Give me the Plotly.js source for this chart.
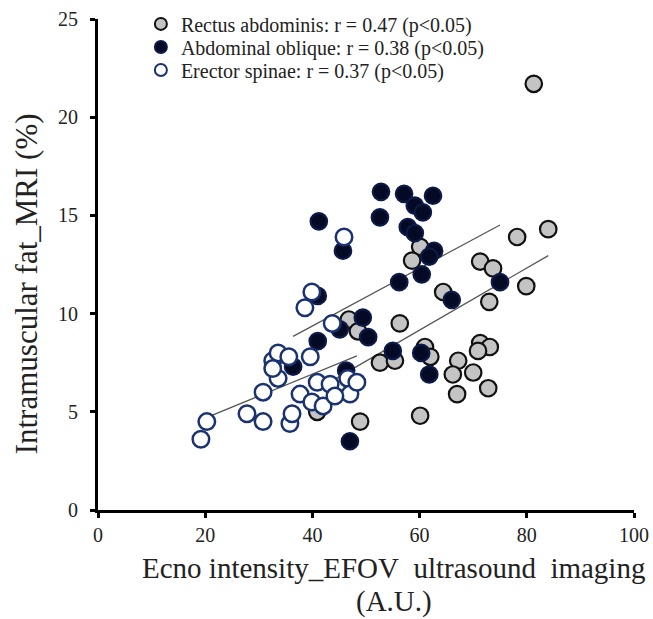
<!DOCTYPE html>
<html>
<head>
<meta charset="utf-8">
<script src="https://cdn.plot.ly/plotly-3.0.1.min.js"></script>
<style>html,body{margin:0;padding:0;background:#fff;}</style>
</head>
<body>
<div id="chart" style="width:653px;height:619px;"></div>
<script>
// Rectus abdominis
var rectusX = [84.0,78.2,60.1,58.6,71.3,73.7,79.9,64.4,73.0,56.3,46.8,48.5,52.6,55.4,61.0,62.0,71.3,73.1,70.9,67.2,70.0,66.2,72.8,67.0,60.1,48.9,81.3,40.9];
var rectusY = [14.3,13.9,13.4,12.7,12.65,12.3,11.4,11.1,10.6,9.5,9.7,9.1,7.5,7.6,8.3,7.8,8.5,8.3,8.1,7.6,7.0,6.9,6.2,5.9,4.8,4.5,21.7,5.0];
// Abdominal oblique
var obliqueX = [52.8,57.1,62.5,59.1,60.6,52.6,57.8,59.1,62.7,61.8,60.4,56.2,75.0,66.0,49.4,50.4,55.0,60.3,61.8,47.0,45.7,41.2,41.0,41.0,45.1,36.4,46.3];
var obliqueY = [16.2,16.1,16.0,15.5,15.15,14.9,14.4,14.1,13.2,12.9,12.0,11.6,11.6,10.7,9.8,8.8,8.1,8.0,6.9,3.5,13.2,14.7,10.9,8.6,9.2,7.3,7.1];
// Erector spinae
var erectorX = [20.3,19.2,27.8,30.8,30.8,32.6,33.6,35.6,33.6,32.6,39.6,35.8,36.2,37.7,39.9,42.0,40.9,43.3,46.6,47.0,48.3,44.2,39.9,38.6,43.7,45.9];
var erectorY = [4.5,3.6,4.9,4.5,6.0,7.6,8.0,7.8,6.7,7.2,7.8,4.4,4.9,5.9,5.5,5.3,6.5,6.4,6.7,5.9,6.5,5.8,11.1,10.3,9.5,13.9];

// Regression lines: [slope, intercept]
var rectusFit = [0.158, -0.32];
var obliqueFit = [0.147, 3.49];
var erectorFit = [0.112, 2.44];

var seriesNames = [
  "Rectus abdominis: r = 0.47 (p<0.05)",
  "Abdominal oblique: r = 0.38 (p<0.05)",
  "Erector spinae: r = 0.37 (p<0.05)"
];
var xTicks = [0,20,40,60,80,100];
var yTicks = [0,5,10,15,20,25];
var xTitleLines = ["Ecno intensity_EFOV\u00a0\u00a0ultrasound\u00a0\u00a0imaging", "(A.U.)"];
var yTitle = "Intramuscular fat_MRI (%)";

function fitLine(xs, fit) {
  var mn = Math.min.apply(null, xs), mx = Math.max.apply(null, xs);
  return {x: [mn, mx], y: [fit[1] + fit[0]*mn, fit[1] + fit[0]*mx]};
}

var FONT = "Liberation Serif, Times New Roman, serif";
var lineStyle = {color: "#555", width: 1.2};
var rl = fitLine(rectusX, rectusFit), ol = fitLine(obliqueX, obliqueFit), el = fitLine(erectorX, erectorFit);

var traces = [
  {x: rl.x, y: rl.y, mode: "lines", line: lineStyle, showlegend: false, hoverinfo: "skip"},
  {x: ol.x, y: ol.y, mode: "lines", line: lineStyle, showlegend: false, hoverinfo: "skip"},
  {x: el.x, y: el.y, mode: "lines", line: lineStyle, showlegend: false, hoverinfo: "skip"},
  {x: rectusX, y: rectusY, mode: "markers", name: seriesNames[0], legend: "legend",
   marker: {size: 16.5, color: "#c4c4c4", line: {color: "#111", width: 2.2}}},
  {x: obliqueX, y: obliqueY, mode: "markers", name: seriesNames[1], legend: "legend2",
   marker: {size: 16.5, color: "#040a24", line: {color: "#0c1a48", width: 2.2}}},
  {x: erectorX, y: erectorY, mode: "markers", name: seriesNames[2], legend: "legend3",
   marker: {size: 16.5, color: "#ffffff", line: {color: "#1a3370", width: 2.5}}}
];

function leg(y) {
  return {x: 0.08, xanchor: "left", y: y, yanchor: "middle", bgcolor: "rgba(0,0,0,0)",
          font: {family: FONT, size: 20, color: "#222"}, itemsizing: "constant"};
}

var layout = {
  width: 653, height: 619,
  margin: {l: 98, r: 19, t: 19, b: 109, autoexpand: false},
  paper_bgcolor: "#fff", plot_bgcolor: "#fff",
  showlegend: true,
  legend: leg(0.990), legend2: leg(0.943), legend3: leg(0.896),
  xaxis: {range: [0, 100], tickvals: xTicks, ticktext: xTicks.map(String),
          showline: true, linecolor: "#000", linewidth: 3, mirror: false,
          ticks: "outside", ticklen: 5, tickwidth: 3, tickcolor: "#000",
          showgrid: false, zeroline: false,
          tickfont: {family: FONT, size: 20, color: "#222"}},
  yaxis: {range: [0, 25], tickvals: yTicks, ticktext: yTicks.map(String),
          showline: true, linecolor: "#000", linewidth: 3,
          ticks: "outside", ticklen: 5, tickwidth: 3, tickcolor: "#000",
          showgrid: false, zeroline: false, ticklabelstandoff: 8,
          tickfont: {family: FONT, size: 20, color: "#222"}},
  annotations: [
    {xref: "paper", yref: "paper", x: 0.552, y: -0.118, xanchor: "center", yanchor: "middle",
     showarrow: false, text: xTitleLines[0],
     font: {family: FONT, size: 29, color: "#222"}},
    {xref: "paper", yref: "paper", x: 0.552, y: -0.187, xanchor: "center", yanchor: "middle",
     showarrow: false, text: xTitleLines[1],
     font: {family: FONT, size: 29, color: "#222"}},
    {xref: "paper", yref: "paper", x: -0.134, y: 0.46, xanchor: "center", yanchor: "middle",
     showarrow: false, textangle: -90, text: yTitle,
     font: {family: FONT, size: 31, color: "#222"}}
  ]
};

Plotly.newPlot("chart", traces, layout, {displayModeBar: false, staticPlot: true});
</script>
</body>
</html>
